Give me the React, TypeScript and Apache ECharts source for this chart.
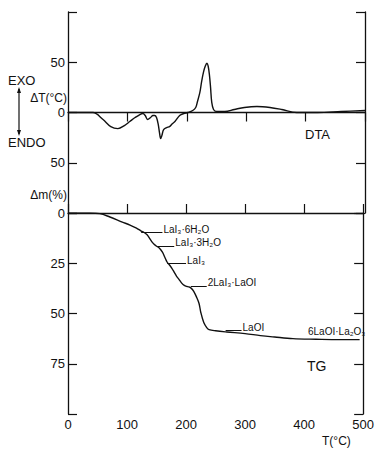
import React, { useEffect, useRef } from 'react';
import * as echarts from 'echarts';

// DTA curve: temperature (°C) and ΔT (°C)
const dtaT = [0, 42, 59, 72, 84, 95, 104, 113, 121, 126, 130, 134, 139, 143, 146, 149, 152, 154, 156, 158, 161, 166, 171, 176, 180, 188, 195, 202, 210, 215, 218, 222, 225, 228, 231, 234, 236, 238, 240, 242, 245, 250, 264, 280, 297, 318, 340, 360, 385, 420, 460, 500];
const dtaV = [0, 0, -7, -14, -16, -13, -9, -5, -2, -1, -3, -7, -5, -3, -3, -5, -12, -20, -26, -23, -17, -15, -14, -11, -9, -3, -1, 0, 2, 5, 11, 20, 31, 40, 46, 49, 46, 38, 25, 10, 3, 1, 1, 3, 5, 6, 5, 3, 0, 0, 1, 2];

// TG curve: temperature (°C) and mass loss Δm (%)
const tgT = [0, 37, 54, 71, 92, 105, 116, 124, 129, 134, 138, 144, 149, 155, 160, 164, 168, 171, 176, 180, 184, 188, 193, 197, 201, 205, 209, 213, 218, 222, 225, 230, 235, 239, 250, 269, 300, 326, 350, 381, 420, 460, 494];
const tgV = [0, 0, 0.3, 2, 4.5, 6, 7.5, 9, 9.7, 10.8, 12.5, 15, 16.3, 17.5, 19.5, 22, 24.5, 25.5, 27.5, 29.5, 31.5, 33, 35, 36, 36.5, 36.8, 37.5, 39, 42, 45, 49.5, 54.5, 57, 58, 58.6, 59.2, 60, 61, 61.7, 62.5, 62.8, 63, 63];

// Annotated intermediates: name, Δm level, start and end temperature of the leader line
const phaseNames = ['LaI₃·6H₂O', 'LaI₃·3H₂O', 'LaI₃', '2LaI₃·LaOI', 'LaOI'];
const phaseLevels = [9.5, 16.4, 24.9, 36.3, 58.3];
const phaseFrom = [124, 151, 168, 208, 267];
const phaseTo = [160, 180, 200, 235, 294];

const xTicks = [0, 100, 200, 300, 400, 500];

const FONT = 'Liberation Sans';

export default function App() {
  const ref = useRef<HTMLDivElement>(null);

  useEffect(() => {
    if (!ref.current) return;
    const chart = echarts.init(ref.current, undefined, { renderer: 'svg' });

    const black = '#111';
    const axisCommon = {
      axisLine: { show: true, lineStyle: { color: black, width: 1.3 } },
      axisTick: { show: true, inside: true, length: 9, lineStyle: { color: black, width: 1.2 } },
      splitLine: { show: false },
    };

    const markData = phaseNames.map((n, i) => [
      { name: n, coord: [phaseFrom[i], phaseLevels[i]] },
      { coord: [phaseTo[i], phaseLevels[i]] },
    ]);

    const txt = (text: string, x: number, y: number, size: number, align = 'left') => ({
      type: 'text',
      x,
      y,
      silent: true,
      style: {
        text,
        fill: black,
        font: `${size}px "${FONT}"`,
        align,
        verticalAlign: 'middle',
        textAlign: align,
        textVerticalAlign: 'middle',
      },
    });

    chart.setOption({
      animation: false,
      backgroundColor: '#fff',
      textStyle: { fontFamily: FONT },
      grid: [
        { left: 68, right: 12, top: 12, height: 201 },
        { left: 68, right: 12, top: 213, height: 201 },
      ],
      xAxis: [
        {
          gridIndex: 0, type: 'value', position: 'top', min: 0, max: 500, interval: 100,
          ...axisCommon, axisLabel: { show: false },
        },
        {
          gridIndex: 1, type: 'value', position: 'bottom', min: 0, max: 500, interval: 100,
          ...axisCommon,
          axisLabel: {
            show: true, margin: 4, color: black, fontSize: 13, fontFamily: FONT,
            formatter: (v: number) => (xTicks.includes(v) ? String(v) : ''),
          },
        },
      ],
      yAxis: [
        {
          gridIndex: 0, type: 'value', position: 'left', min: -100, max: 100, interval: 50,
          ...axisCommon,
          axisLabel: {
            show: true, margin: 3, color: black, fontSize: 13, fontFamily: FONT,
            formatter: (v: number) => (Math.abs(v) === 100 ? '' : String(Math.abs(v))),
          },
        },
        {
          gridIndex: 0, type: 'value', position: 'right', min: -100, max: 100, interval: 50,
          ...axisCommon, axisLabel: { show: false },
        },
        {
          gridIndex: 1, type: 'value', position: 'left', min: 0, max: 100, interval: 25, inverse: true,
          ...axisCommon,
          axisLabel: {
            show: true, margin: 3, color: black, fontSize: 13, fontFamily: FONT,
            formatter: (v: number) => (v === 100 ? '' : String(v)),
          },
        },
        {
          gridIndex: 1, type: 'value', position: 'right', min: 0, max: 100, interval: 25, inverse: true,
          ...axisCommon, axisLabel: { show: false },
        },
      ],
      series: [
        {
          type: 'line', name: 'DTA', xAxisIndex: 0, yAxisIndex: 0,
          data: dtaT.map((t, i) => [t, dtaV[i]]),
          showSymbol: false, smooth: 0.35,
          lineStyle: { color: black, width: 1.4 },
        },
        {
          type: 'line', name: 'TG', xAxisIndex: 1, yAxisIndex: 2,
          data: tgT.map((t, i) => [t, tgV[i]]),
          showSymbol: false, smooth: 0.35,
          lineStyle: { color: black, width: 1.4 },
          markLine: {
            silent: true, symbol: ['none', 'none'],
            lineStyle: { color: black, type: 'solid', width: 1 },
            label: {
              show: true, position: 'end', formatter: '{b}', color: black,
              fontSize: 10, fontFamily: FONT, distance: 1, offset: [0, -3],
            },
            emphasis: { disabled: true },
            data: markData,
          },
        },
      ],
      graphic: [
        txt('EXO', 8, 80, 13),
        txt('ENDO', 8, 142, 13),
        { type: 'line', silent: true, shape: { x1: 19, y1: 89, x2: 19, y2: 134 }, style: { stroke: black, lineWidth: 1.2 } },
        { type: 'polygon', silent: true, shape: { points: [[19, 87], [17, 93], [21, 93]] }, style: { fill: black } },
        { type: 'polygon', silent: true, shape: { points: [[19, 136], [17, 130], [21, 130]] }, style: { fill: black } },
        txt('ΔT(°C)', 67, 98, 12, 'right'),
        txt('Δm(%)', 67, 195, 12, 'right'),
        txt('DTA', 305, 134, 13),
        txt('TG', 307, 366, 14),
        txt('T(°C)', 322, 441, 12),
        txt('6LaOI·La₂O₃', 308, 331, 10),
      ],
    });

    return () => chart.dispose();
  }, []);

  return (
    <div
      ref={ref}
      style={{ position: 'fixed', left: 0, top: 0, width: 377, height: 456, background: '#fff' }}
    />
  );
}
